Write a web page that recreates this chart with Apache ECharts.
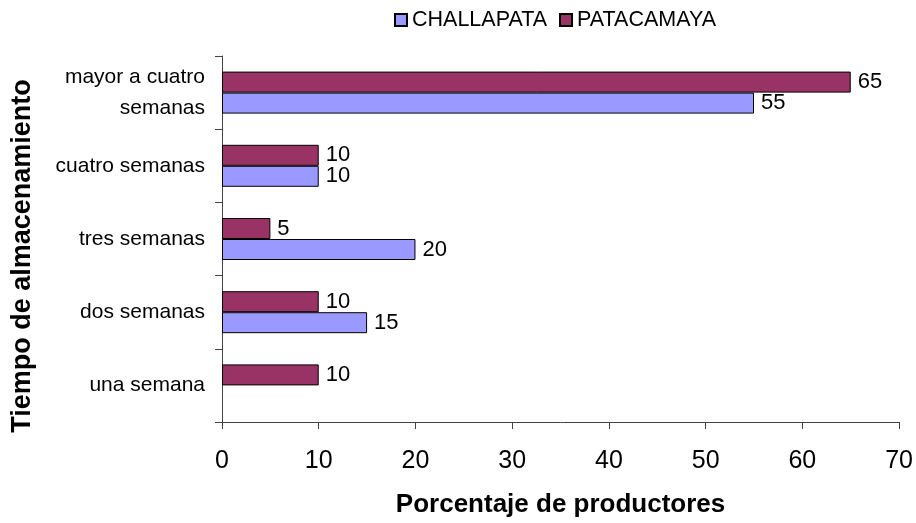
<!DOCTYPE html>
<html>
<head>
<meta charset="utf-8">
<script src="https://cdn.jsdelivr.net/npm/echarts@6/dist/echarts.min.js"></script>
<style>
  html, body { margin: 0; padding: 0; background: #fff; }
  #chart { width: 916px; height: 523px; }
</style>
</head>
<body>
<div id="chart"></div>
<script>
// categorías de abajo hacia arriba
const categories = ['una semana', 'dos semanas', 'tres semanas', 'cuatro semanas', 'mayor a cuatro\nsemanas']
const challapata = [0, 15, 20, 10, 55]
const patacamaya = [10, 10, 5, 10, 65]
const xTicks = [0, 10, 20, 30, 40, 50, 60, 70]

const chart = echarts.init(document.getElementById('chart'))
const font = 'Liberation Sans, Arial, sans-serif'
const axisColor = '#444'

const valueLabel = {
  show: true,
  position: 'right',
  distance: 7,
  color: '#000',
  fontSize: 22,
  fontFamily: font,
  formatter: p => (p.value ? p.value : '')
}

chart.setOption({
  animation: false,
  legend: {
    top: 4,
    left: 389,
    itemWidth: 12,
    itemHeight: 12,
    itemGap: 12,
    icon: 'rect',
    textStyle: { fontSize: 21.5, fontFamily: font, color: '#000' },
    data: ['CHALLAPATA', 'PATACAMAYA']
  },
  grid: { left: 222, right: 14, top: 56, bottom: 95 },
  xAxis: {
    type: 'value',
    min: xTicks[0],
    max: xTicks[xTicks.length - 1],
    interval: 10,
    splitLine: { show: false },
    axisLine: { show: true, lineStyle: { color: axisColor, width: 1 } },
    axisTick: { show: true, length: 7, lineStyle: { color: axisColor } },
    axisLabel: { color: '#000', fontSize: 25, fontFamily: font, margin: 27 },
    name: 'Porcentaje de productores',
    nameLocation: 'middle',
    nameGap: 70,
    nameTextStyle: { fontSize: 26, fontWeight: 'bold', fontFamily: font, color: '#000' }
  },
  yAxis: {
    type: 'category',
    data: categories,
    axisLine: { show: true, lineStyle: { color: axisColor, width: 1 } },
    axisTick: { show: true, length: 7, lineStyle: { color: axisColor } },
    axisLabel: { color: '#000', fontSize: 21, fontFamily: font, margin: 17, align: 'right', lineHeight: 31 },
    name: 'Tiempo de almacenamiento',
    nameLocation: 'middle',
    nameGap: 186,
    nameRotate: 90,
    nameTextStyle: { fontSize: 27, fontWeight: 'bold', fontFamily: font, color: '#000', padding: [0, 34, 0, 0] }
  },
  series: [
    {
      name: 'PATACAMAYA',
      type: 'bar',
      data: patacamaya.map(v => v || '-'),
      barWidth: 21,
      barGap: '0%',
      itemStyle: { color: '#993366', borderColor: '#000', borderWidth: 1 },
      label: valueLabel
    },
    {
      name: 'CHALLAPATA',
      type: 'bar',
      data: challapata.map(v => v || '-'),
      barWidth: 21,
      barGap: '0%',
      itemStyle: { color: '#9999FF', borderColor: '#000', borderWidth: 1 },
      label: valueLabel
    }
  ]
})
</script>
</body>
</html>
